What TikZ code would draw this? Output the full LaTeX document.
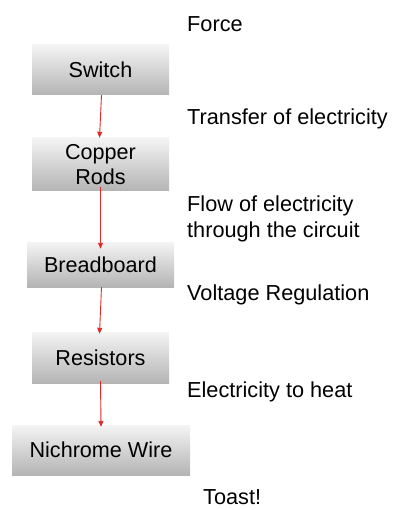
\documentclass[tikz,border=0pt]{standalone}
\usepackage{fontspec}
\setmainfont{Liberation Sans}
\usetikzlibrary{arrows.meta}
\definecolor{boxtop}{HTML}{F4F4F4}
\definecolor{boxbot}{HTML}{B4B4B4}
\definecolor{arr}{HTML}{E02828}
\begin{document}
\begin{tikzpicture}[x=1pt,y=-1pt,
  box/.style={inner sep=0pt, align=center, top color=boxtop, bottom color=boxbot, draw=none, font=\fontsize{21.6}{25}\selectfont},
  lbl/.style={anchor=base west, align=left, inner sep=0pt, font=\fontsize{21.7}{25}\selectfont},
  flow/.style={draw=arr, line width=0.9pt, -{Triangle[length=6pt,width=5pt]}}]
\useasboundingbox (0,0) rectangle (393,510);
\node[box, minimum width=137pt, minimum height=50pt] (s) at (100.5,70) {Switch};
\node[box, minimum width=137pt, minimum height=53pt] (c) at (100.5,164.5) {Copper\\Rods};
\node[box, minimum width=147pt, minimum height=45pt] (b) at (100.5,264.5) {Breadboard};
\node[box, minimum width=137pt, minimum height=51pt] (r) at (100.5,357.5) {Resistors};
\node[box, minimum width=178pt, minimum height=50pt] (n) at (101,450) {Nichrome Wire};
\draw[flow] ([xshift=1pt]s.south) -- ([xshift=-1pt]c.north);
\draw[flow] ([yshift=4pt]c.south) -- ([yshift=-7pt]b.north);
\draw[flow] ([xshift=1pt]b.south) -- ([xshift=-1pt,yshift=-2pt]r.north);
\draw[flow] ([yshift=2pt]r.south) -- ([yshift=-2pt]n.north);
\node[lbl] (f) at (187,32) {Force};
\node[lbl] (t) at (187,125) {Transfer of electricity};
\node[lbl] (fl) at (187,237) {Flow of electricity\\through the circuit};
\node[lbl] (v) at (187,300) {Voltage Regulation};
\node[lbl] (e) at (187,397) {Electricity to heat};
\node[lbl] (to) at (203,504) {Toast!};
\end{tikzpicture}
\end{document}
